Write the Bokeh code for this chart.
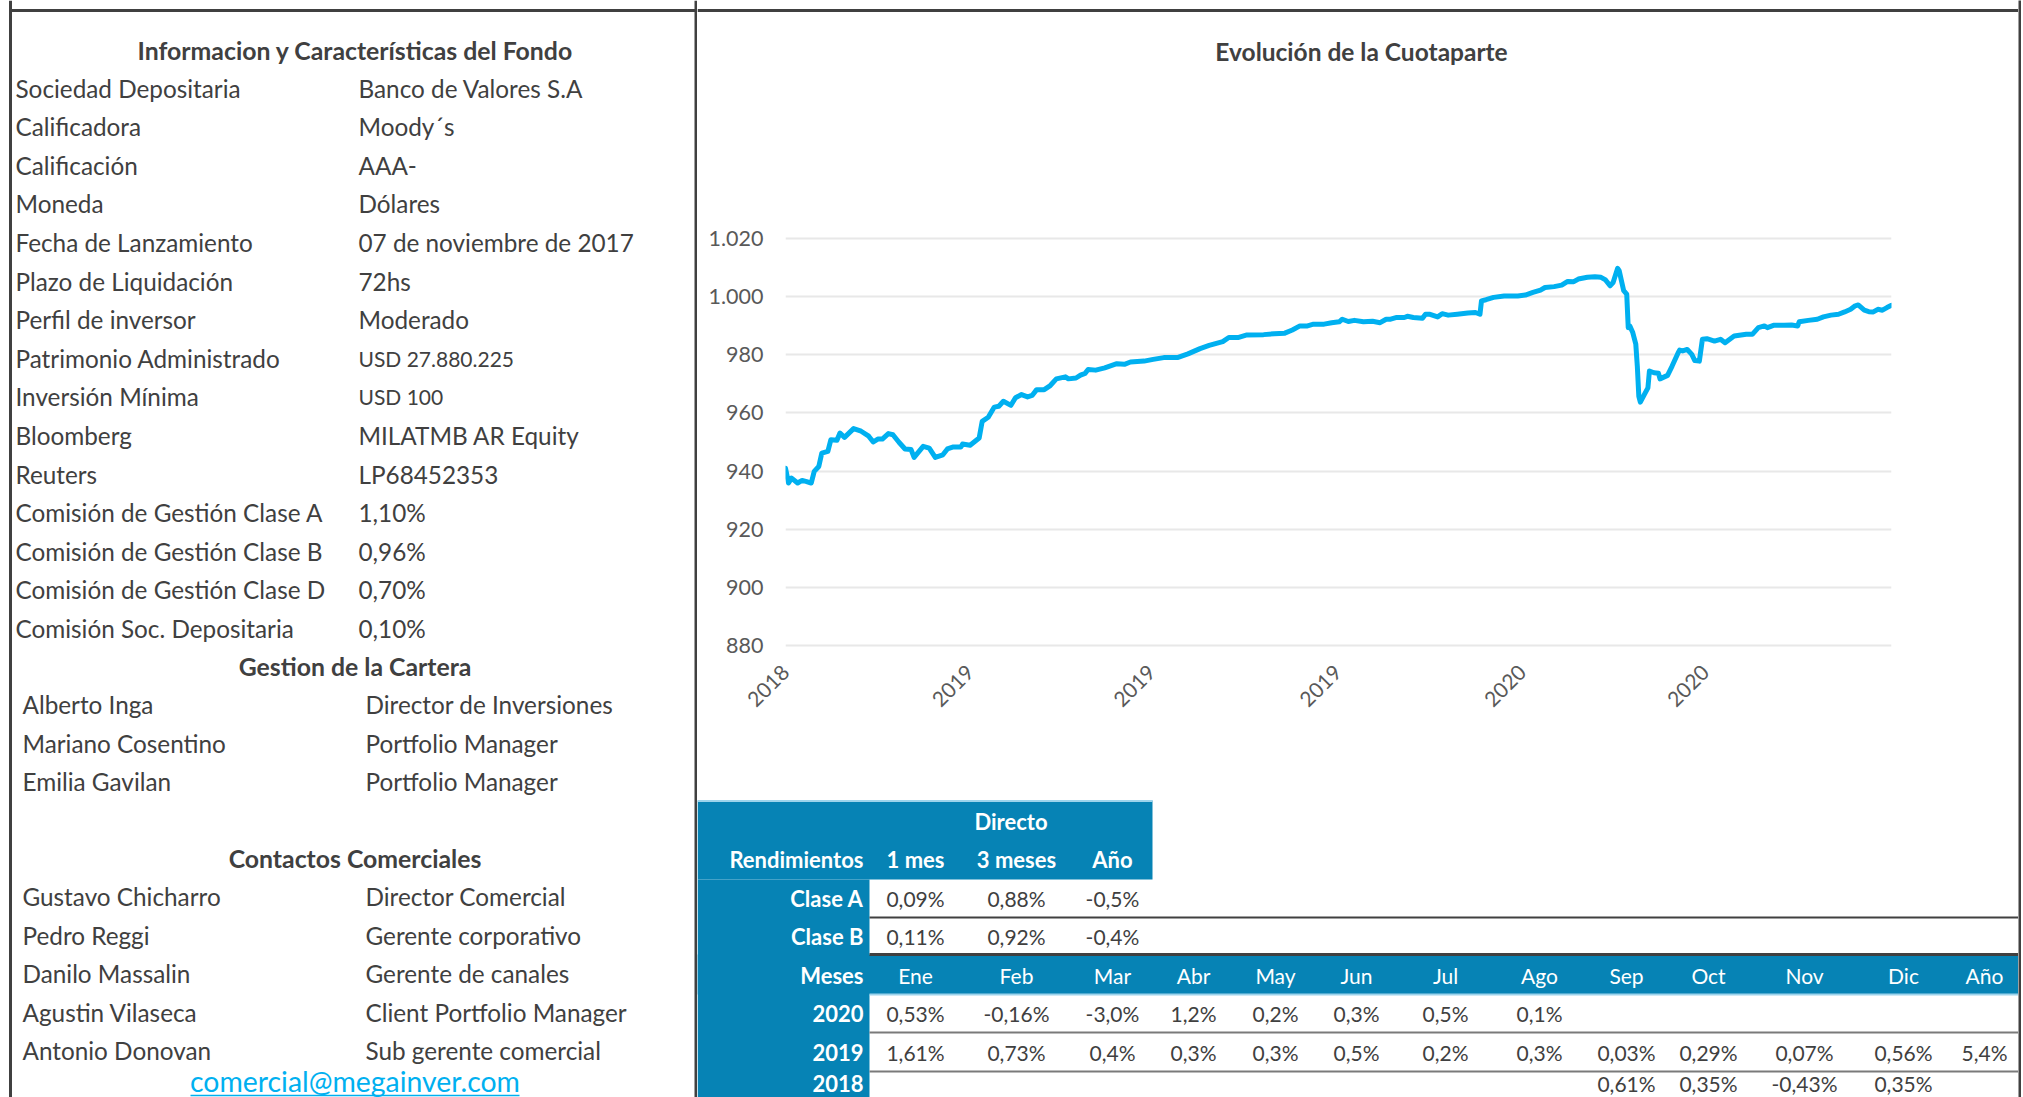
import datetime as dt
import pandas as pd
from bokeh.plotting import figure
from bokeh.layouts import row, column
from bokeh.models import Range1d, FixedTicker, DatetimeTickFormatter
from bokeh.core.properties import value
from bokeh.embed import file_html
from bokeh.resources import INLINE

# ---------------- data ----------------
info_labels = ["Sociedad Depositaria", "Calificadora", "Calificación", "Moneda",
               "Fecha de Lanzamiento", "Plazo de Liquidación", "Perfil de inversor",
               "Patrimonio Administrado", "Inversión Mínima", "Bloomberg", "Reuters",
               "Comisión de Gestión Clase A", "Comisión de Gestión Clase B",
               "Comisión de Gestión Clase D", "Comisión Soc. Depositaria"]
info_values = ["Banco de Valores S.A", "Moody´s", "AAA-", "Dólares",
               "07 de noviembre de 2017", "72hs", "Moderado", "USD 27.880.225",
               "USD 100", "MILATMB AR Equity", "LP68452353", "1,10%", "0,96%",
               "0,70%", "0,10%"]
small_values = ["USD 27.880.225", "USD 100"]

gestion_names = ["Alberto Inga", "Mariano Cosentino", "Emilia Gavilan"]
gestion_roles = ["Director de Inversiones", "Portfolio Manager", "Portfolio Manager"]
contact_names = ["Gustavo Chicharro", "Pedro Reggi", "Danilo Massalin",
                 "Agustin Vilaseca", "Antonio Donovan"]
contact_roles = ["Director Comercial", "Gerente corporativo", "Gerente de canales",
                 "Client Portfolio Manager", "Sub gerente comercial"]
email = "comercial@megainver.com"

cuota_dates = [
    "2018-09-01", "2018-09-03", "2018-09-05", "2018-09-09", "2018-09-12", "2018-09-15",
    "2018-09-18", "2018-09-20", "2018-09-23", "2018-09-25", "2018-09-29", "2018-10-01",
    "2018-10-05", "2018-10-07", "2018-10-10", "2018-10-16", "2018-10-21", "2018-10-26",
    "2018-10-29", "2018-11-01", "2018-11-04", "2018-11-08", "2018-11-11", "2018-11-15",
    "2018-11-19", "2018-11-23", "2018-11-25", "2018-12-01", "2018-12-05", "2018-12-09",
    "2018-12-14", "2018-12-17", "2018-12-21", "2018-12-26", "2018-12-27", "2019-01-01",
    "2019-01-07", "2019-01-09", "2019-01-13", "2019-01-17", "2019-01-20", "2019-01-23",
    "2019-01-28", "2019-01-31", "2019-02-04", "2019-02-08", "2019-02-11", "2019-02-14",
    "2019-02-19", "2019-02-23", "2019-02-27", "2019-03-05", "2019-03-07", "2019-03-12",
    "2019-03-15", "2019-03-18", "2019-03-20", "2019-03-25", "2019-03-31", "2019-04-08",
    "2019-04-13", "2019-04-17", "2019-04-26", "2019-05-02", "2019-05-09", "2019-05-18",
    "2019-05-25", "2019-06-02", "2019-06-08", "2019-06-17", "2019-06-21", "2019-06-27",
    "2019-07-03", "2019-07-14", "2019-07-21", "2019-07-28", "2019-08-02", "2019-08-07",
    "2019-08-12", "2019-08-16", "2019-08-23", "2019-08-28", "2019-09-02", "2019-09-04",
    "2019-09-08", "2019-09-12", "2019-09-18", "2019-09-24", "2019-09-29", "2019-10-03",
    "2019-10-06", "2019-10-10", "2019-10-15", "2019-10-17", "2019-10-21", "2019-10-27",
    "2019-10-29", "2019-11-01", "2019-11-06", "2019-11-09", "2019-11-13", "2019-11-19",
    "2019-11-26", "2019-12-01", "2019-12-04", "2019-12-05", "2019-12-08", "2019-12-13",
    "2019-12-20", "2019-12-29", "2020-01-03", "2020-01-08", "2020-01-13", "2020-01-16",
    "2020-01-22", "2020-01-27", "2020-01-31", "2020-02-04", "2020-02-07", "2020-02-13",
    "2020-02-18", "2020-02-22", "2020-02-25", "2020-02-28", "2020-03-01", "2020-03-04",
    "2020-03-05", "2020-03-08", "2020-03-10", "2020-03-11", "2020-03-12", "2020-03-14",
    "2020-03-16", "2020-03-17", "2020-03-18", "2020-03-19", "2020-03-21", "2020-03-24",
    "2020-03-25", "2020-03-28", "2020-03-31", "2020-04-01", "2020-04-06", "2020-04-09",
    "2020-04-13", "2020-04-14", "2020-04-16", "2020-04-19", "2020-04-22", "2020-04-24",
    "2020-04-27", "2020-04-29", "2020-05-02", "2020-05-07", "2020-05-11", "2020-05-14",
    "2020-05-20", "2020-05-28", "2020-06-01", "2020-06-05", "2020-06-09", "2020-06-11",
    "2020-06-15", "2020-06-22", "2020-06-27", "2020-07-01", "2020-07-02", "2020-07-08",
    "2020-07-14", "2020-07-18", "2020-07-23", "2020-07-28", "2020-08-01", "2020-08-05",
    "2020-08-08", "2020-08-10", "2020-08-14", "2020-08-17", "2020-08-20", "2020-08-23",
    "2020-08-26", "2020-08-29", "2020-09-01"]
cuota_values = [
    941.0, 935.9, 937.6, 935.9, 936.8, 936.4, 935.9, 939.9, 941.6, 946.2, 946.8, 950.8,
    950.6, 953.1, 951.6, 954.6, 953.7, 952.0, 950.0, 951.0, 951.0, 952.9, 952.5, 949.9,
    947.6, 947.4, 944.7, 948.5, 947.9, 944.7, 945.6, 947.6, 948.3, 948.3, 949.3, 948.9,
    951.4, 957.1, 958.5, 962.0, 962.3, 964.0, 962.6, 965.2, 966.3, 965.5, 966.0, 968.0,
    968.0, 969.4, 971.7, 972.4, 971.7, 972.0, 973.0, 973.6, 974.9, 974.7, 975.5, 976.9,
    976.7, 977.5, 977.8, 978.4, 979.0, 979.0, 980.3, 982.1, 983.2, 984.5, 985.9, 985.9,
    986.8, 986.9, 987.2, 987.4, 988.5, 989.9, 989.9, 990.5, 990.5, 991.0, 991.3, 992.2,
    991.4, 991.8, 991.3, 991.5, 991.0, 992.2, 992.2, 992.8, 992.8, 993.2, 992.8, 992.5,
    993.9, 993.9, 993.0, 994.1, 993.6, 993.9, 994.3, 994.5, 993.9, 998.5, 998.9, 999.7,
    1000.2, 1000.2, 1000.5, 1001.4, 1002.2, 1003.1, 1003.4, 1003.9, 1005.2, 1005.1, 1006.0, 1006.6,
    1006.8, 1006.6, 1005.7, 1003.7, 1004.8, 1009.7, 1008.9, 1002.0, 1000.8, 989.3, 989.9, 987.6,
    983.6, 976.1, 965.7, 963.7, 965.7, 968.6, 974.4, 973.8, 973.6, 971.7, 972.9, 976.1,
    980.7, 981.6, 981.3, 981.8, 980.1, 978.0, 977.8, 985.3, 985.5, 984.7, 985.3, 984.1,
    986.4, 987.0, 987.0, 989.3, 989.9, 989.3, 990.1, 990.1, 990.2, 989.9, 991.3, 991.8,
    992.2, 993.0, 993.6, 993.9, 994.7, 995.6, 996.8, 997.1, 995.3, 994.8, 994.7, 995.6,
    995.3, 996.2, 997.0]

x_tick_dates = ["2018-09-01", "2019-01-01", "2019-05-01", "2019-09-01",
                "2020-01-01", "2020-05-01"]
x_start, x_end = "2018-09-01", "2020-09-01"
y_ticks = [880, 900, 920, 940, 960, 980, 1000, 1020]
y_tick_labels = ["880", "900", "920", "940", "960", "980", "1.000", "1.020"]

rend_header = "Directo"
rend_cols = ["1 mes", "3 meses", "Año"]
clase_labels = ["Clase A", "Clase B"]
clase_a = ["0,09%", "0,88%", "-0,5%"]
clase_b = ["0,11%", "0,92%", "-0,4%"]
month_cols = ["Ene", "Feb", "Mar", "Abr", "May", "Jun", "Jul", "Ago", "Sep", "Oct",
              "Nov", "Dic", "Año"]
years = ["2020", "2019", "2018"]
r2020 = ["0,53%", "-0,16%", "-3,0%", "1,2%", "0,2%", "0,3%", "0,5%", "0,1%",
         "", "", "", "", ""]
r2019 = ["1,61%", "0,73%", "0,4%", "0,3%", "0,3%", "0,5%", "0,2%", "0,3%",
         "0,03%", "0,29%", "0,07%", "0,56%", "5,4%"]
r2018 = ["", "", "", "", "", "", "", "", "0,61%", "0,35%", "-0,43%", "0,35%", ""]

# ---------------- style ----------------
FONT = value("Lato")
DARK = "#404040"
TXT = "#404040"
AXT = "#595959"
BLUE = "#0683B5"
LIGHTBLUE = "#9DD4EC"
CYAN = "#00B0F0"


def no_align(p):
    try:
        p.frame_align = False
    except Exception:
        pass


def blank(w, h, x0, x1, y0, y1):
    p = figure(width=w, height=h, x_range=Range1d(x0, x1), y_range=Range1d(y1, y0),
               x_axis_location=None, y_axis_location=None, toolbar_location=None,
               output_backend="svg", min_border=0, outline_line_color=None)
    p.grid.visible = False
    no_align(p)
    return p


def txt(p, xs, ys, texts, size, align="left", color=TXT, bold=False):
    p.text(x=xs, y=ys, text=texts, text_font=FONT, text_font_size=size,
           text_color=color, text_align=align, text_baseline="alphabetic",
           text_font_style="bold" if bold else "normal")


REG = "24.3px"
HEAD = "24.8px"

# ---------------- left panel ----------------
lp = blank(697, 1097, 0, 697, 0, 1097)
lp.segment(x0=[10, 10, 695.5], y0=[0, 10, 0], x1=[10, 697, 695.5], y1=[1097, 10, 1097],
           line_width=3, line_color=DARK)
txt(lp, [355], [49.5], ["Informacion y Características del Fondo"], HEAD, "center", bold=True)
step = 38.6
rows_y = [87.5 + step * i for i in range(len(info_labels))]
txt(lp, [15] * len(info_labels), rows_y, info_labels, REG)
big_idx = [i for i, v in enumerate(info_values) if v not in small_values]
sml_idx = [i for i, v in enumerate(info_values) if v in small_values]
txt(lp, [358] * len(big_idx), [rows_y[i] for i in big_idx], [info_values[i] for i in big_idx], REG)
txt(lp, [358] * len(sml_idx), [rows_y[i] for i in sml_idx], [info_values[i] for i in sml_idx], "21px")

txt(lp, [354.5], [665.5], ["Gestion de la Cartera"], HEAD, "center", bold=True)
g_y = [704 + step * i for i in range(len(gestion_names))]
txt(lp, [22] * len(g_y), g_y, gestion_names, REG)
txt(lp, [365] * len(g_y), g_y, gestion_roles, REG)

txt(lp, [354.5], [857.5], ["Contactos Comerciales"], HEAD, "center", bold=True)
c_y = [896 + step * i for i in range(len(contact_names))]
txt(lp, [22] * len(c_y), c_y, contact_names, REG)
txt(lp, [365] * len(c_y), c_y, contact_roles, REG)
txt(lp, [354.5], [1080], [email], "28.4px", "center", color=CYAN)
lp.segment(x0=[190], y0=[1095], x1=[519], y1=[1095], line_width=1.5, line_color=CYAN)

# ---------------- chart title panel ----------------
tp = blank(1321, 200, 697, 2018, 0, 200)
tp.segment(x0=[697], y0=[10], x1=[2018], y1=[10], line_width=3, line_color=DARK)
txt(tp, [1361], [50.7], ["Evolución de la Cuotaparte"], "24.5px", "center", bold=True)

# ---------------- chart ----------------
dates = pd.to_datetime(cuota_dates)
cp = figure(width=1321, height=597, x_axis_type="datetime",
            x_range=Range1d(pd.Timestamp(x_start).to_pydatetime(), pd.Timestamp(x_end).to_pydatetime()),
            y_range=Range1d(878, 1022),
            min_border_left=88, min_border_right=127, min_border_top=32, min_border_bottom=146,
            toolbar_location=None, output_backend="svg", outline_line_color=None)
no_align(cp)
cp.line(dates, cuota_values, line_width=5, line_color=CYAN, line_join="round", line_cap="round")

ytk = FixedTicker(ticks=y_ticks)
cp.yaxis.ticker = ytk
cp.ygrid.ticker = ytk
cp.yaxis.major_label_overrides = dict(zip(y_ticks, y_tick_labels))
xt_ms = [pd.Timestamp(d).value // 10**6 for d in x_tick_dates]
cp.xaxis.ticker = FixedTicker(ticks=xt_ms)
cp.xaxis.formatter = DatetimeTickFormatter(years="%Y", months="%Y", days="%Y", hours="%Y",
                                           hourmin="%Y", minutes="%Y", minsec="%Y",
                                           seconds="%Y", milliseconds="%Y", microseconds="%Y")
cp.xaxis.major_label_orientation = 0.785398
cp.xgrid.grid_line_color = None
cp.ygrid.grid_line_color = "#E8E8E8"
cp.ygrid.grid_line_width = 2
for ax in (cp.xaxis, cp.yaxis):
    ax.axis_line_color = None
    ax.major_tick_line_color = None
    ax.minor_tick_line_color = None
    ax.major_tick_out = 0
    ax.major_tick_in = 0
    ax.major_label_text_font = "Lato"
    ax.major_label_text_color = AXT
cp.yaxis.major_label_text_font_size = "21.5px"
cp.xaxis.major_label_text_font_size = "21px"
cp.yaxis.major_label_standoff = 22
cp.xaxis.major_label_standoff = 17

# ---------------- returns table ----------------
tb = blank(1321, 300, 697, 2018, 797, 1097)
tb.quad(left=[697, 697, 697], right=[1152, 869, 2018], top=[800, 879, 954],
        bottom=[879, 1097, 994], fill_color=BLUE, line_color=None)
tb.segment(x0=[697, 869], y0=[800.5, 994], x1=[1152, 2018], y1=[800.5, 994],
           line_width=2, line_color=LIGHTBLUE)
tb.segment(x0=[869, 869], y0=[917, 954], x1=[2018, 2018], y1=[917, 954],
           line_width=[2, 3], line_color=DARK)
tb.segment(x0=[869, 869], y0=[1032, 1071], x1=[2018, 2018], y1=[1032, 1071],
           line_width=2, line_color="#7A7A7A")

col_x = [915, 1016, 1112, 1193, 1275, 1356, 1445, 1539, 1626, 1708, 1804, 1903, 1984]
lab_x = 863
BL = "22px"
VL = "21px"
txt(tb, [1010.5], [821.2], [rend_header], BL, "center", "white", True)
txt(tb, [lab_x], [858.8], ["Rendimientos"], BL, "right", "white", True)
txt(tb, col_x[:3], [858.8] * 3, rend_cols, BL, "center", "white", True)
txt(tb, [lab_x, lab_x], [897.8, 936.2], clase_labels, BL, "right", "white", True)
txt(tb, col_x[:3], [897.8] * 3, clase_a, VL, "center")
txt(tb, col_x[:3], [936.2] * 3, clase_b, VL, "center")
txt(tb, [lab_x], [974.5], ["Meses"], BL, "right", "white", True)
txt(tb, col_x, [974.5] * len(month_cols), month_cols, VL, "center", "white")
year_y = [1012.8, 1051.5, 1083.2]
txt(tb, [lab_x] * 3, year_y, years, BL, "right", "white", True)
for yy, vals in zip(year_y, [r2020, r2019, r2018]):
    txt(tb, col_x, [yy] * len(vals), vals, VL, "center")

# ---------------- right border ----------------
bp = figure(width=3, height=1097, x_range=Range1d(0, 1), y_range=Range1d(0, 1),
            x_axis_location=None, y_axis_location=None, toolbar_location=None,
            output_backend="svg", min_border=0, outline_line_color=None,
            background_fill_color=DARK, border_fill_color=DARK)
bp.grid.visible = False
no_align(bp)

layout = row(lp, column(tp, cp, tb, spacing=0), bp, spacing=0)
open("out.html", "w").write(file_html(layout, INLINE))
